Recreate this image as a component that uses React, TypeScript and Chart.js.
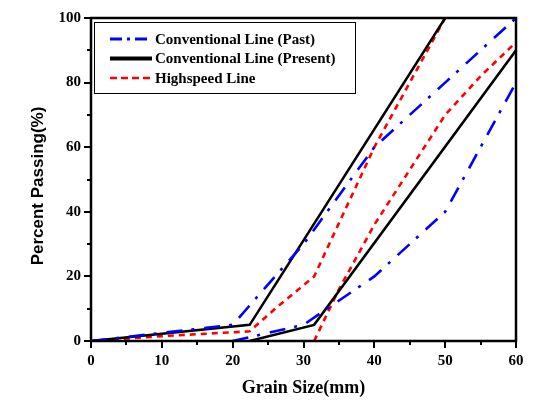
import React, { useEffect, useRef } from "react";
import { Chart, registerables } from "chart.js";

Chart.register(...registerables);

// Grain size (mm) and percent passing values
const pastUpperX = [0, 10, 20, 30, 40, 50, 60];
const pastUpperY = [0, 2.5, 5, 30, 60, 80, 100];
const pastLowerX = [20, 30, 40, 50, 60];
const pastLowerY = [0, 5, 20, 40, 80];

const presentUpperX = [0, 22.4, 50];
const presentUpperY = [0, 5, 100];
const presentLowerX = [22.4, 31.5, 60];
const presentLowerY = [0, 5, 90];

const highUpperX = [0, 10, 22.4, 26, 31.5, 40, 50];
const highUpperY = [0, 1.5, 3, 10, 20, 60, 100];
const highLowerX = [31.5, 35, 40, 50, 55, 60];
const highLowerY = [0, 16, 36, 70, 82, 92.5];

const legendLabels = [
  "Conventional Line (Past)",
  "Conventional Line (Present)",
  "Highspeed Line",
];
const xTitle = "Grain Size(mm)";
const yTitle = "Percent Passing(%)";

const BLUE = "#0000ff";
const RED = "#ff0000";
const BLACK = "#000000";
const TEXT = "#000000";

const toPts = (xs: number[], ys: number[]) => xs.map((x, i) => ({ x, y: ys[i] }));

const styles = [
  { color: BLUE, width: 2.6, dash: [16, 9, 3, 10], legendDash: [12, 5, 3, 5], legendWidth: 3 },
  { color: BLACK, width: 2.5, dash: [] as number[], legendDash: [] as number[], legendWidth: 4 },
  { color: RED, width: 2.6, dash: [6, 5], legendDash: [7, 4], legendWidth: 2.6 },
];

const framePlugin = {
  id: "frameAndExtras",
  afterDatasetsDraw(chart: any) {
    const { ctx, chartArea: a, scales } = chart;
    const xs = scales.x;
    const ys = scales.y;
    ctx.save();
    // frame
    ctx.strokeStyle = BLACK;
    ctx.lineWidth = 2.5;
    ctx.setLineDash([]);
    ctx.strokeRect(a.left, a.top, a.right - a.left, a.bottom - a.top);
    // x ticks (major every 10, minor every 5)
    ctx.lineWidth = 2;
    for (let v = 0; v <= 60; v += 5) {
      const px = Math.round(xs.getPixelForValue(v));
      const len = v % 10 === 0 ? 7 : 4;
      ctx.beginPath();
      ctx.moveTo(px, a.bottom);
      ctx.lineTo(px, a.bottom + len);
      ctx.stroke();
    }
    for (let v = 0; v <= 100; v += 10) {
      const py = Math.round(ys.getPixelForValue(v));
      const len = v % 20 === 0 ? 7 : 4;
      ctx.beginPath();
      ctx.moveTo(a.left, py);
      ctx.lineTo(a.left - len, py);
      ctx.stroke();
    }
    // legend
    const lx = a.left + 3;
    const ly = a.top + 4;
    const lw = 261;
    const lh = 71;
    ctx.fillStyle = "#ffffff";
    ctx.fillRect(lx, ly, lw, lh);
    ctx.lineWidth = 1;
    ctx.strokeRect(lx + 0.5, ly + 0.5, lw, lh);
    ctx.font = "bold 15px 'Liberation Serif', 'DejaVu Serif', serif";
    ctx.textBaseline = "middle";
    ctx.textAlign = "left";
    legendLabels.forEach((label, i) => {
      const st = styles[i];
      const yy = ly + 17 + i * 19.5;
      ctx.strokeStyle = st.color;
      ctx.lineWidth = st.legendWidth;
      ctx.setLineDash(st.legendDash);
      ctx.beginPath();
      ctx.moveTo(lx + 16, yy);
      ctx.lineTo(lx + 58, yy);
      ctx.stroke();
      ctx.setLineDash([]);
      ctx.fillStyle = TEXT;
      ctx.fillText(label, lx + 61, yy + 1);
    });
    // axis titles
    ctx.fillStyle = TEXT;
    ctx.textAlign = "center";
    ctx.textBaseline = "middle";
    ctx.font = "bold 18px 'Liberation Serif', 'DejaVu Serif', serif";
    ctx.fillText(xTitle, (a.left + a.right) / 2, 388);
    ctx.save();
    ctx.translate(38, 186);
    ctx.rotate(-Math.PI / 2);
    ctx.font = "bold 17px 'Liberation Sans', Arial, sans-serif";
    ctx.fillText(yTitle, 0, 0);
    ctx.restore();
    ctx.restore();
  },
};

export default function App() {
  const ref = useRef<HTMLCanvasElement | null>(null);
  useEffect(() => {
    document.body.style.margin = "0";
    const canvas = ref.current;
    if (!canvas) return;
    const mk = (label: string, xs: number[], ys: number[], s: any, legend: boolean) => ({
      label,
      data: toPts(xs, ys),
      borderColor: s.color,
      backgroundColor: s.color,
      borderWidth: s.width,
      borderDash: s.dash,
      borderCapStyle: "butt",
      pointRadius: 0,
      fill: false,
      tension: 0,
      showLine: true,
      legendEntry: legend,
    });
    const chart = new Chart(canvas, {
      type: "scatter",
      data: {
        datasets: [
          mk(legendLabels[0], pastUpperX, pastUpperY, styles[0], true),
          mk(legendLabels[0], pastLowerX, pastLowerY, styles[0], false),
          mk(legendLabels[1], presentUpperX, presentUpperY, styles[1], true),
          mk(legendLabels[1], presentLowerX, presentLowerY, styles[1], false),
          mk(legendLabels[2], highUpperX, highUpperY, styles[2], true),
          mk(legendLabels[2], highLowerX, highLowerY, styles[2], false),
        ] as any,
      },
      options: {
        responsive: false,
        animation: false,
        layout: { padding: { left: 0, right: 24, top: 18, bottom: 0 } },
        plugins: { legend: { display: false }, tooltip: { enabled: false } },
        scales: {
          x: {
            type: "linear",
            min: 0,
            max: 60,
            grid: { display: false, drawTicks: true, tickLength: 7 },
            border: { display: false },
            ticks: {
              stepSize: 10,
              padding: 4,
              color: TEXT,
              font: { family: "'Liberation Serif', 'DejaVu Serif', serif", size: 15, weight: "bold" },
            },
            afterFit: (s: any) => {
              s.height = 76;
            },
          },
          y: {
            type: "linear",
            min: 0,
            max: 100,
            grid: { display: false, drawTicks: true, tickLength: 7 },
            border: { display: false },
            ticks: {
              stepSize: 20,
              padding: 3,
              color: TEXT,
              font: { family: "'Liberation Serif', 'DejaVu Serif', serif", size: 15, weight: "bold" },
            },
            afterFit: (s: any) => {
              s.width = 91;
            },
          },
        },
      } as any,
      plugins: [framePlugin],
    });
    return () => chart.destroy();
  }, []);
  return (
    <div style={{ width: 540, height: 417, background: "#fff" }}>
      <canvas ref={ref} width={540} height={417} style={{ display: "block" }} />
    </div>
  );
}
